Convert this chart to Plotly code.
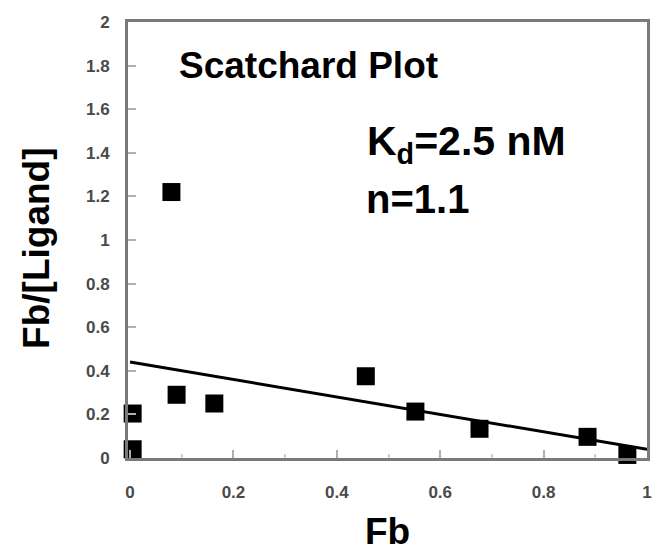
import plotly.graph_objects as go

# Data
fb = [0.005, 0.005, 0.08, 0.09, 0.163, 0.456, 0.552, 0.676, 0.885, 0.962]
fb_ratio = [0.204, 0.04, 1.22, 0.29, 0.25, 0.375, 0.213, 0.134, 0.097, 0.014]
fit_x = [0.0, 1.0]
fit_y = [0.44, 0.04]
y_ticks = [0, 0.2, 0.4, 0.6, 0.8, 1, 1.2, 1.4, 1.6, 1.8, 2]
x_ticks = [0, 0.2, 0.4, 0.6, 0.8, 1]

FONT = "Arial, Liberation Sans, Helvetica, sans-serif"

fig = go.Figure()
fig.add_trace(go.Scatter(x=fit_x, y=fit_y, mode="lines",
                         line=dict(color="black", width=3), showlegend=False,
                         cliponaxis=False))
fig.add_trace(go.Scatter(x=fb, y=fb_ratio, mode="markers",
                         marker=dict(symbol="square", size=18, color="black",
                                     line=dict(width=0)),
                         showlegend=False, cliponaxis=False))

axis_common = dict(showline=True, mirror=True, linecolor="#7a7a7a", linewidth=3,
                   showgrid=False, zeroline=False, ticks="inside", ticklen=8,
                   tickwidth=2, tickcolor="#b0b0b0",
                   tickfont=dict(family=FONT, size=17, color="#4a4a4a", weight="bold"))

fig.update_xaxes(range=[-0.004, 1.0], tickvals=x_ticks, ticklabelstandoff=17,
                 minor=dict(ticks="inside", ticklen=4, tickcolor="#d0d0d0", dtick=0.1),
                 **axis_common)
fig.update_yaxes(range=[0, 2], tickvals=y_ticks, ticklabelstandoff=12,
                 **axis_common)

fig.add_annotation(x=0.5, y=-0.168, xref="paper", yref="paper", text="Fb",
                   showarrow=False, xanchor="center", yanchor="middle",
                   font=dict(family=FONT, size=37, color="black", weight="bold"))
fig.add_annotation(x=-0.175, y=0.48, xref="paper", yref="paper", text="Fb/[Ligand]",
                   textangle=-90, showarrow=False, xanchor="center", yanchor="middle",
                   font=dict(family=FONT, size=37, color="black", weight="bold"))

fig.add_annotation(x=0.09, y=1.80, text="Scatchard Plot", showarrow=False,
                   xanchor="left", yanchor="middle",
                   font=dict(family=FONT, size=37, color="black", weight="bold"))
fig.add_annotation(x=0.455, y=1.44, text="K<sub>d</sub>=2.5 nM", showarrow=False,
                   xanchor="left", yanchor="middle",
                   font=dict(family=FONT, size=41, color="black", weight="bold"))
fig.add_annotation(x=0.453, y=1.19, text="n=1.1", showarrow=False,
                   xanchor="left", yanchor="middle",
                   font=dict(family=FONT, size=40, color="black", weight="bold"))

fig.update_layout(width=664, height=553,
                  margin=dict(l=128, r=12, t=22, b=95),
                  paper_bgcolor="white", plot_bgcolor="white")

fig.write_html("out.html")
